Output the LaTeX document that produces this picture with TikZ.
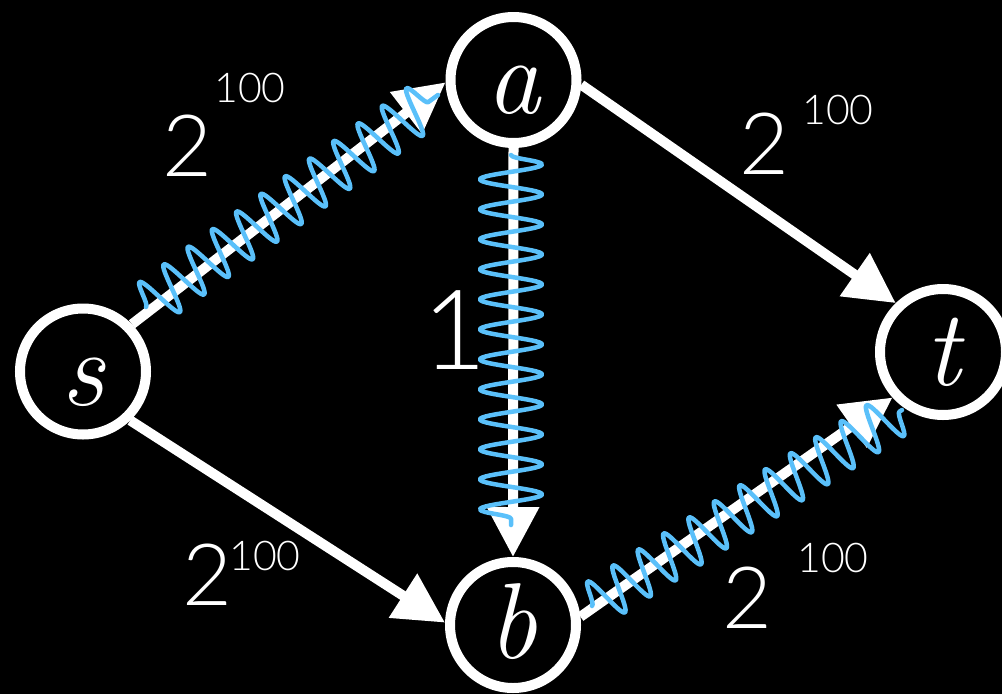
\documentclass[tikz,border=0pt]{standalone}
\usepackage{fontspec}
\newfontfamily\hand{Lato Light}
\usetikzlibrary{arrows.meta,decorations.pathmorphing,calc}
\definecolor{squigcol}{RGB}{90,192,250}
\begin{document}
\begin{tikzpicture}[x=1pt,y=-1pt,
  vert/.style={circle, draw=white, line width=10pt, minimum size=126pt, inner sep=0pt,
    text=white, font=\itshape\fontsize{108}{108}\selectfont, text height=67pt, text depth=0pt},
  arr/.style={draw=white, line width=10pt, -{Triangle[length=50pt,width=50pt]}},
  squig/.style={draw=squigcol, line width=4.5pt, line cap=round, line join=round,
    decorate, decoration={snake, amplitude=#1pt, segment length=30pt}},
  big/.style={text=white, inner sep=0pt, font=\hand\fontsize{86}{86}\selectfont},
  small/.style={text=white, inner sep=0pt, font=\hand\fontsize{41}{41}\selectfont},
  one/.style={text=white, inner sep=0pt, font=\hand\fontsize{111}{111}\selectfont}
]
\fill[black] (0,0) rectangle (1002,694);
\useasboundingbox (0,0) rectangle (1002,694);

\node[vert] (s) at (83,371.5) {s};
\node[vert] (a) at (513.5,80) {a};
\node[vert] (b) at (513,625) {b};
\node[vert] (t) at (943,352) {t};

\draw[arr] (s.44) -- (a.182);
\draw[arr] (a.-4) -- (t.134);
\draw[arr] (s.-46) -- (b.178);
\draw[arr] (a.-90) -- (b.90);
\draw[arr] (b.7) -- (t.222);

\coordinate (q1a) at (146,307);
\coordinate (q1b) at (438,95);
\coordinate (q2a) at (511,155);
\coordinate (q2b) at (511,525);
\coordinate (q3a) at (592,606);
\coordinate (q3b) at (902,410);
\draw[squig=24] (q1a) -- (q1b);
\draw[squig=31] (q2a) -- (q2b);
\draw[squig=23] (q3a) -- (q3b);

\node[big] (l1) at (187,146) {2};
\node[small] (l1e) at (250,88) {100};
\node[big] (l2) at (764,144) {2};
\node[small] (l2e) at (838,110) {100};
\node[big] (l3) at (207,575) {2};
\node[small] (l3e) at (265,556) {100};
\node[big] (l4) at (747,598) {2};
\node[small] (l4e) at (833,558) {100};
\node[one] (l5) at (455,330) {1};
\end{tikzpicture}
\end{document}
